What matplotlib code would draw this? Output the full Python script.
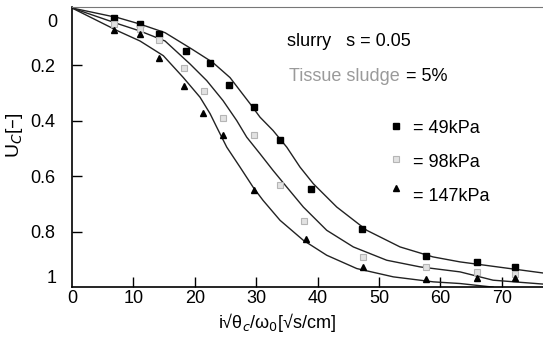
import numpy as np
import matplotlib.pyplot as plt

plt.rcParams['font.family'] = ['Liberation Sans', 'DejaVu Sans']

# measured points (x = i*sqrt(theta_c)/omega_0, y = U_c)
x_49 = [6.9, 11.1, 14.2, 18.5, 22.5, 25.6, 29.6, 33.9, 39.0, 47.3, 57.6, 65.9, 72.1]
y_49 = [0.03, 0.049, 0.087, 0.147, 0.191, 0.272, 0.351, 0.471, 0.646, 0.789, 0.887, 0.909, 0.927]

x_98 = [6.9, 11.1, 14.2, 18.3, 21.5, 24.6, 29.7, 33.8, 37.8, 47.4, 57.6, 65.9, 72.1]
y_98 = [0.049, 0.067, 0.109, 0.208, 0.291, 0.39, 0.45, 0.63, 0.762, 0.891, 0.929, 0.945, 0.951]

x_147 = [6.9, 11.0, 14.2, 18.3, 21.4, 24.6, 29.6, 38.1, 47.4, 57.6, 65.9, 72.1]
y_147 = [0.073, 0.087, 0.174, 0.273, 0.372, 0.451, 0.649, 0.827, 0.927, 0.969, 0.967, 0.967]

# fitted curves
cx_49 = [0, 7.49, 11.07, 15.15, 19.5, 22.96, 25.73, 27.36, 28.99, 30.62, 32.74, 34.97,
         37.13, 39.3, 43.11, 48.0, 53.42, 58.79, 63.19, 76.7]
cy_49 = [-0.007, 0.028, 0.051, 0.082, 0.141, 0.19, 0.244, 0.291, 0.338, 0.387, 0.435, 0.495,
         0.567, 0.627, 0.711, 0.795, 0.855, 0.891, 0.909, 0.949]

cx_98 = [0, 7.49, 11.07, 15.15, 19.22, 21.94, 24.59, 26.82, 28.45, 30.62, 32.74, 34.97,
         37.67, 41.48, 45.81, 51.25, 56.68, 63.19, 68.57, 76.7]
cy_98 = [-0.007, 0.05, 0.076, 0.112, 0.195, 0.255, 0.327, 0.399, 0.459, 0.519, 0.579, 0.639,
         0.711, 0.795, 0.855, 0.903, 0.927, 0.945, 0.975, 0.989]

cx_147 = [0, 7.49, 11.07, 14.87, 18.13, 20.85, 22.48, 23.57, 25.2, 27.36, 29.48, 31.11,
          33.88, 37.67, 41.48, 46.37, 52.33, 58.84, 63.19, 68.57]
cy_147 = [-0.007, 0.076, 0.112, 0.165, 0.244, 0.315, 0.374, 0.423, 0.495, 0.567, 0.639, 0.687,
          0.759, 0.831, 0.885, 0.933, 0.963, 0.981, 0.987, 1.0]

xticks = [0, 10, 20, 30, 40, 50, 60, 70]
yticks = [0.2, 0.4, 0.6, 0.8]
ytick_labels = ['0.2', '0.4', '0.6', '0.8']
legend_labels = ['= 49kPa', '= 98kPa', '= 147kPa']

fig = plt.figure(figsize=(5.43, 3.41), dpi=100)
ax = fig.add_axes([0.1326, 0.158, 0.8674, 0.821])

lw = 1.0
for cx, cy in [(cx_49, cy_49), (cx_98, cy_98), (cx_147, cy_147)]:
    ax.plot(cx, cy, color='#222222', lw=lw, solid_joinstyle='round')

gray_kw = dict(mfc='#e2e2e2', mec='#b5b5b5', mew=0.8)
ax.plot(x_49, y_49, 's', color='black', ms=4.6, ls='none', zorder=3)
ax.plot(x_98, y_98, 's', ms=4.2, ls='none', zorder=3, **gray_kw)
ax.plot(x_147, y_147, '^', color='black', ms=4.2, ls='none', zorder=3)

ax.set_xlim(0, 76.7)
ax.set_ylim(1.0, -0.01)

ax.set_xticks(xticks)
ax.set_yticks(yticks)
ax.set_yticklabels(ytick_labels)
ax.tick_params(axis='x', direction='in', length=7, width=1, pad=2, labelsize=13)
ax.tick_params(axis='y', direction='in', length=7, width=1, pad=12, labelsize=13)
ax.xaxis.get_major_ticks()[0].tick1line.set_visible(False)

# the end labels of the y axis sit inside the range in the original
ytr = ax.get_yaxis_transform()
ax.text(-0.032, 0.047, '0', transform=ytr, ha='right', va='center', fontsize=13)
ax.text(-0.032, 0.97, '1', transform=ytr, ha='right', va='center', fontsize=13)

ax.spines['right'].set_visible(False)
ax.spines['top'].set_color('#777777')
ax.spines['left'].set_linewidth(1.2)
ax.spines['bottom'].set_linewidth(1.2)

ax.set_xlabel('i√θ$_c$/ω$_0$[√s/cm]', fontsize=13)
ax.xaxis.set_label_coords(0.435, -0.085)
ax.set_ylabel('U$_C$[–]', fontsize=14)
ax.yaxis.set_label_coords(-0.1, 0.543)

# annotations
ax.text(35.0, 0.115, 'slurry   s = 0.05', fontsize=13, va='center')
ax.text(35.3, 0.241, 'Tissue sludge', fontsize=13, va='center', color='#9a9a9a')
ax.text(54.4, 0.241, '= 5%', fontsize=13, va='center')

# legend entries
lx_marker = 52.8
lx_text = 55.5
ax.plot([lx_marker], [0.42], 's', color='black', ms=4.6)
ax.plot([lx_marker], [0.536], 's', ms=3.8, **gray_kw)
ax.plot([lx_marker], [0.644], '^', color='black', ms=4.2)
ax.text(lx_text, 0.428, legend_labels[0], fontsize=13, va='center')
ax.text(lx_text, 0.55, legend_labels[1], fontsize=13, va='center')
ax.text(lx_text, 0.673, legend_labels[2], fontsize=13, va='center')

fig.savefig('out.png', dpi=100)
